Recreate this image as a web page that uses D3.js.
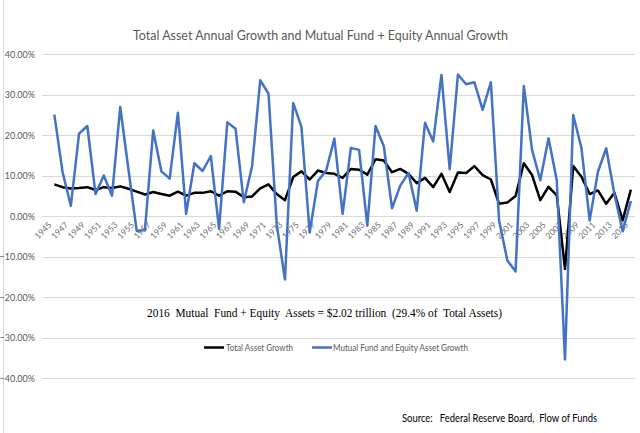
<!DOCTYPE html>
<html>
<head>
<meta charset="utf-8">
<script src="https://cdn.jsdelivr.net/npm/d3@7/dist/d3.min.js"></script>
<style>
  html, body { margin: 0; padding: 0; background: #fff; }
  svg { display: block; font-family: Lato, "Open Sans", sans-serif; }
</style>
</head>
<body>
<svg id="chart" width="640" height="433"></svg>
<script>
// ---- data ----
const years = d3.range(1945, 2017);           // categories 1945..2016
const tickYears = d3.range(1945, 2017, 2);    // labelled categories
const yTicks = [-40, -30, -20, -10, 0, 10, 20, 30, 40];

// 1945 has no growth value (first year of series)
const totalAssetGrowth = [null,
  7.9, 7.2, 6.9, 7.0, 7.2, 6.5, 7.2, 7.0, 7.4, 6.8,
  6.1, 5.4, 6.0, 5.5, 5.1, 6.1, 5.1, 5.8, 5.8, 6.2,
  5.1, 6.2, 6.1, 4.7, 4.9, 6.9, 7.9, 5.5, 4.0, 9.7,
  11.1, 9.1, 11.3, 10.7, 10.5, 9.5, 11.7, 11.5, 10.3, 14.1,
  13.8, 10.9, 11.7, 10.5, 8.2, 9.5, 7.2, 10.5, 6.0, 10.8,
  10.7, 12.4, 10.2, 9.1, 3.1, 3.4, 5.0, 13.1, 10.2, 4.0,
  7.3, 5.2, -13.0, 12.4, 9.8, 5.5, 6.4, 3.1, 5.8, -1.0,
  6.6];

const mutualFundGrowth = [null,
  25.1, 10.9, 2.6, 20.4, 22.3, 5.5, 10.1, 5.1, 27.0, 11.5,
  -3.6, -3.4, 21.2, 11.1, 9.3, 25.6, 0.6, 13.1, 11.2, 14.9,
  -3.1, 23.2, 21.6, 3.5, 12.3, 33.6, 30.3, -2.0, -15.6, 28.0,
  22.1, -4.0, 8.7, 11.3, 19.2, 0.6, 16.9, 16.4, -2.3, 22.3,
  17.3, 2.0, 7.6, 10.7, 1.4, 23.1, 18.5, 34.9, 11.6, 35.0,
  32.6, 33.1, 26.3, 33.1, -1.0, -10.9, -13.6, 32.2, 16.4, 8.9,
  19.3, 8.9, -35.3, 25.0, 16.8, -1.0, 11.0, 16.8, 5.5, -3.7,
  3.8];

const seriesNames = ["Total Asset Growth", "Mutual Fund and Equity Asset Growth"];
const seriesColors = ["#000000", "#4472C4"];
const series = [totalAssetGrowth, mutualFundGrowth];

const titleText = "Total Asset Annual Growth and Mutual Fund + Equity Annual Growth";
const noteText = "2016  Mutual  Fund + Equity  Assets = $2.02 trillion  (29.4% of  Total Assets)";
const sourceText = "Source:   Federal Reserve Board,  Flow of Funds";

// ---- drawing ----
const svg = d3.select("#chart");
const gray = "#595959";

// faint chart border at left
svg.append("line").attr("x1", 3.5).attr("x2", 3.5).attr("y1", 0).attr("y2", 433)
  .attr("stroke", "#d9d9d9").attr("stroke-width", 1);

const x = d3.scaleBand().domain(years).range([42, 635]);
const xc = d => x(d) + x.bandwidth() / 2;
const y = d3.scaleLinear().domain([-40, 40]).range([378.4, 54.3]);

// gridlines
svg.append("g").selectAll("line").data(yTicks).join("line")
  .attr("x1", 42).attr("x2", 635)
  .attr("y1", d => Math.round(y(d)) + 0.5).attr("y2", d => Math.round(y(d)) + 0.5)
  .attr("stroke", "#d9d9d9").attr("stroke-width", 1);

// y axis labels
const yAxis = d3.axisLeft(y).tickValues(yTicks).tickSize(0).tickPadding(0)
  .tickFormat(d => d3.format(".2f")(d) + "%");
const yg = svg.append("g").attr("transform", "translate(35,0)").call(yAxis);
yg.select(".domain").remove();
yg.selectAll("text").attr("fill", gray).style("font-size", "9px")
  .style("font-family", "Lato, sans-serif");

// x axis labels (rotated)
svg.append("g").selectAll("text").data(tickYears).join("text")
  .attr("transform", d => `translate(${xc(d) + 2},${y(0) + 5}) rotate(-45)`)
  .attr("text-anchor", "end").attr("dy", "0.7em")
  .attr("fill", "#6f6f6f").style("font-size", "8.5px")
  .text(d => d);

// lines
const line = d3.line()
  .defined(d => d.v !== null)
  .x(d => xc(d.year)).y(d => y(d.v));

series.forEach((vals, i) => {
  const pts = years.map((yr, k) => ({ year: yr, v: vals[k] }));
  svg.append("path").datum(pts)
    .attr("fill", "none")
    .attr("stroke", seriesColors[i])
    .attr("stroke-width", 2.5)
    .attr("stroke-linejoin", "round")
    .attr("d", line);
});

// title
svg.append("text").attr("x", 320.5).attr("y", 39.5).attr("text-anchor", "middle")
  .attr("fill", gray).style("font-size", "13.5px")
  .attr("textLength", 375).attr("lengthAdjust", "spacingAndGlyphs")
  .text(titleText);

// annotation
svg.append("text").attr("x", 147).attr("y", 316.5)
  .attr("fill", "#000")
  .style("font-size", "13px")
  .style("font-family", "'Liberation Serif', 'Times New Roman', serif")
  .style("white-space", "pre")
  .attr("textLength", 355).attr("lengthAdjust", "spacingAndGlyphs")
  .text(noteText);

// legend
const legendItems = [
  { name: seriesNames[0], color: seriesColors[0], x0: 204, tx: 226, w: 67 },
  { name: seriesNames[1], color: seriesColors[1], x0: 312, tx: 333, w: 135 }
];
const lg = svg.append("g");
lg.selectAll("line").data(legendItems).join("line")
  .attr("x1", d => d.x0).attr("x2", d => d.x0 + 20)
  .attr("y1", 347.5).attr("y2", 347.5)
  .attr("stroke", d => d.color).attr("stroke-width", 2.5);
lg.selectAll("text").data(legendItems).join("text")
  .attr("x", d => d.tx).attr("y", 350.5)
  .attr("fill", gray).style("font-size", "8.5px")
  .attr("textLength", d => d.w).attr("lengthAdjust", "spacingAndGlyphs")
  .text(d => d.name);

// source
svg.append("text").attr("x", 402).attr("y", 422)
  .attr("fill", "#000").style("font-size", "11px")
  .style("white-space", "pre")
  .attr("textLength", 195).attr("lengthAdjust", "spacingAndGlyphs")
  .text(sourceText);
</script>
</body>
</html>
